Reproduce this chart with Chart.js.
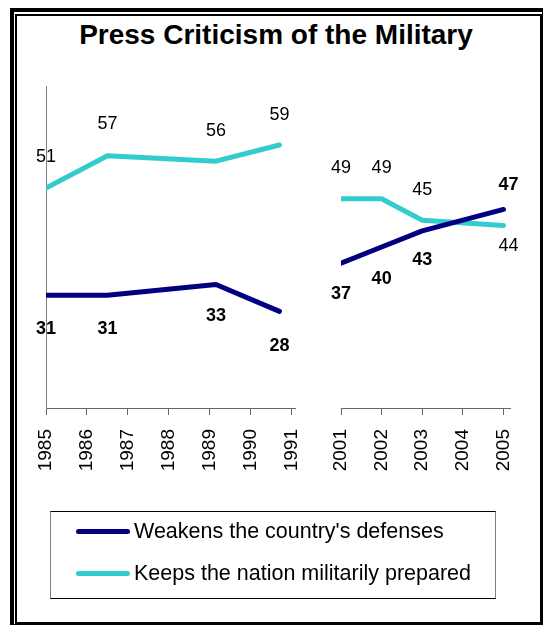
<!DOCTYPE html>
<html>
<head>
<meta charset="utf-8">
<title>Press Criticism of the Military</title>
<script src="https://cdn.jsdelivr.net/npm/chart.js@4.4.1/dist/chart.umd.min.js"></script>
<style>
  html, body { margin: 0; padding: 0; background: #fff; }
  body {
    width: 543px; height: 625px; position: relative; overflow: hidden;
    font-family: "Liberation Sans", Arial, sans-serif; color: #000;
  }
  .frame-outer, .frame-inner { position: absolute; box-sizing: border-box; border-style: solid; border-color: #000; }
  .frame-outer { left: 10px; top: 8px; width: 536px; height: 620px; border-width: 4px; }
  .frame-inner { left: 15px; top: 14px; width: 527px; height: 609.5px; border-width: 2px; }
  h1 {
    position: absolute; left: 10px; width: 532px; top: 21px; margin: 0;
    font-size: 28px; line-height: 28px; font-weight: bold; text-align: center;
  }
  canvas { position: absolute; left: 0; top: 0; }
  .legend {
    position: absolute; left: 50px; top: 511px; width: 446px; height: 88px; box-sizing: border-box;
    border-top: 1px solid #000; border-bottom: 1px solid #000;
    border-left: 1.5px solid #808080; border-right: 1.5px solid #808080;
  }
  .legend-row { position: absolute; left: 0; height: 22px; }
  .legend-row span.swatch {
    position: absolute; left: 25px; width: 54px; height: 5px; border-radius: 3px; top: 8.5px;
  }
  .legend-row span.text {
    position: absolute; left: 83px; top: 0; white-space: nowrap;
    font-size: 21.5px; line-height: 22px;
  }
</style>
</head>
<body>
<div class="frame-outer"></div>
<div class="frame-inner"></div>
<h1>Press Criticism of the Military</h1>
<canvas id="early" width="543" height="625"></canvas>
<canvas id="recent" width="543" height="625"></canvas>
<div class="legend" id="legend"></div>

<script>
// survey points: 1985-1991 and 2001-2005 (no 2004 reading)
const earlyYears = [1985, 1986.5, 1989.15, 1990.7];
const earlyWeakens = [31, 31, 33, 28];
const earlyPrepared = [51, 57, 56, 59];

const recentYears = [2001, 2002, 2003, 2005];
const recentWeakens = [37, 40, 43, 47];
const recentPrepared = [49, 49, 45, 44];

const earlyTicks = [1985, 1986, 1987, 1988, 1989, 1990, 1991];
const recentTicks = [2001, 2002, 2003, 2004, 2005];

const seriesNames = ["Weakens the country's defenses", "Keeps the nation militarily prepared"];
const seriesColors = ["#000080", "#33cccc"];

const FONT = '"Liberation Sans", Arial, sans-serif';

function points(xs, ys) {
  return xs.map(function (x, i) { return { x: x, y: ys[i] }; });
}

// value labels next to each point, offsets in px
const valueLabels = {
  id: "valueLabels",
  afterDatasetsDraw(chart) {
    const ctx = chart.ctx;
    chart.data.datasets.forEach(function (ds, i) {
      const meta = chart.getDatasetMeta(i);
      ctx.save();
      ctx.font = (ds.labelBold ? "bold " : "") + "18px " + FONT;
      ctx.fillStyle = "#000";
      ctx.textAlign = "center";
      ctx.textBaseline = "alphabetic";
      meta.data.forEach(function (pt, j) {
        const off = ds.labelOffsets[j];
        // offset is to the visual centre of the digits
        ctx.fillText(String(ds.data[j].y), pt.x + off[0], pt.y + off[1] + 6.5);
      });
      ctx.restore();
    });
  }
};

function lineSet(idx, data, offsets) {
  return {
    label: seriesNames[idx],
    data: data,
    borderColor: seriesColors[idx],
    backgroundColor: seriesColors[idx],
    borderWidth: 5,
    borderCapStyle: "round",
    borderJoinStyle: "round",
    pointRadius: 0,
    tension: 0,
    fill: false,
    labelBold: idx === 0,
    labelOffsets: offsets
  };
}

function xAxis(min, max, ticks) {
  return {
    type: "linear",
    min: min,
    max: max,
    afterBuildTicks: function (scale) {
      scale.ticks = ticks.map(function (v) { return { value: v }; });
    },
    afterFit: function (scale) { scale.height = 100; },
    grid: { drawOnChartArea: false, drawTicks: true, tickLength: 7, color: "#666", lineWidth: 1 },
    border: { display: true, color: "#666", width: 1 },
    ticks: {
      autoSkip: false,
      minRotation: 90,
      maxRotation: 90,
      padding: 14,
      color: "#000",
      font: { family: FONT, size: 19 },
      callback: function (v) { return String(v); }
    }
  };
}

function baseOptions(padding, xScale, showYLine) {
  return {
    responsive: false,
    animation: false,
    devicePixelRatio: 1,
    events: [],
    layout: { padding: padding },
    plugins: { legend: { display: false }, title: { display: false }, tooltip: { enabled: false } },
    scales: {
      x: xScale,
      y: {
        display: showYLine,
        min: 10,
        max: 70,
        afterFit: function (scale) { scale.width = 0; },
        grid: { display: false, drawTicks: false },
        border: { display: true, color: "#808080", width: 1 },
        ticks: { display: false }
      }
    }
  };
}

new Chart(document.getElementById("early"), {
  type: "line",
  data: {
    datasets: [
      lineSet(0, points(earlyYears, earlyWeakens), [[0, 32], [0, 32], [0, 30], [0, 33]]),
      lineSet(1, points(earlyYears, earlyPrepared), [[0, -32], [0, -33], [0, -32], [0, -32]])
    ]
  },
  options: baseOptions({ left: 46, right: 248, top: 86, bottom: 117 },
    xAxis(1985, 1991.08, earlyTicks), true),
  plugins: [valueLabels]
});

new Chart(document.getElementById("recent"), {
  type: "line",
  data: {
    datasets: [
      lineSet(0, points(recentYears, recentWeakens), [[0, 29], [0, 30], [0, 28], [5, -26]]),
      lineSet(1, points(recentYears, recentPrepared), [[0, -32], [0, -32], [0, -32], [5, 19]])
    ]
  },
  options: baseOptions({ left: 341, right: 33, top: 86, bottom: 117 },
    xAxis(2001, 2005.16, recentTicks), false),
  plugins: [valueLabels]
});

// legend rows
const legend = document.getElementById("legend");
seriesNames.forEach(function (name, i) {
  const row = document.createElement("div");
  row.className = "legend-row";
  row.style.top = (i === 0 ? 8 : 50) + "px";
  const sw = document.createElement("span");
  sw.className = "swatch";
  sw.style.background = seriesColors[i];
  const tx = document.createElement("span");
  tx.className = "text";
  tx.textContent = name;
  row.appendChild(sw);
  row.appendChild(tx);
  legend.appendChild(row);
});
</script>
</body>
</html>
